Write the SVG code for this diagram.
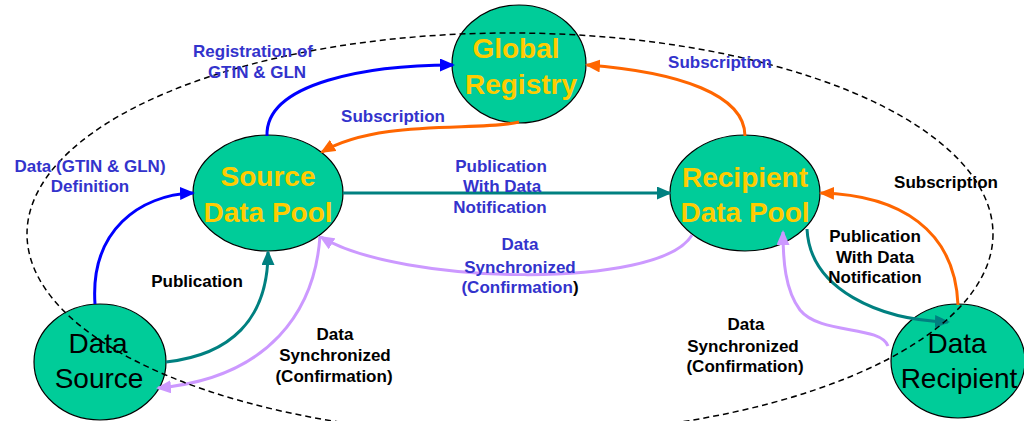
<svg xmlns="http://www.w3.org/2000/svg" width="1024" height="421" viewBox="0 0 1024 421">
<style>
.node{fill:#00CC99;stroke:#000;stroke-width:1.2}
.tp{font-family:"Liberation Sans",Arial,sans-serif;font-weight:bold;font-size:28px;fill:#FFCC00;text-anchor:middle}
.te{font-family:"Liberation Sans",Arial,sans-serif;font-size:28px;fill:#000;text-anchor:middle}
.lb{font-family:"Liberation Sans",Arial,sans-serif;font-weight:bold;font-size:17px;fill:#3333CC;text-anchor:middle}
.lk{font-family:"Liberation Sans",Arial,sans-serif;font-weight:bold;font-size:17px;fill:#000;text-anchor:middle}
.c{fill:none;stroke-width:3}
.blue{stroke:#0000FF}
.orange{stroke:#FF6600}
.teal{stroke:#008080}
.lav{stroke:#CC99FF}
</style>
<defs>
<marker id="mBlue" markerUnits="userSpaceOnUse" markerWidth="15" markerHeight="13" refX="13" refY="6.5" orient="auto"><path d="M0,0 L15,6.5 L0,13 z" fill="#0000FF"/></marker>
<marker id="mOrange" markerUnits="userSpaceOnUse" markerWidth="15" markerHeight="13" refX="13" refY="6.5" orient="auto"><path d="M0,0 L15,6.5 L0,13 z" fill="#FF6600"/></marker>
<marker id="mTeal" markerUnits="userSpaceOnUse" markerWidth="15" markerHeight="13" refX="13" refY="6.5" orient="auto"><path d="M0,0 L15,6.5 L0,13 z" fill="#008080"/></marker>
<marker id="mLav" markerUnits="userSpaceOnUse" markerWidth="15" markerHeight="13" refX="13" refY="6.5" orient="auto"><path d="M0,0 L15,6.5 L0,13 z" fill="#CC99FF"/></marker>
</defs>
<rect width="1024" height="421" fill="#fff"/>

<g id="global-registry">
<ellipse class="node" cx="519" cy="64" rx="67" ry="59"/>
<text class="tp" x="516" y="58">Global</text>
<text class="tp" x="521" y="94">Registry</text>
</g>
<g id="source-data-pool">
<ellipse class="node" cx="268" cy="193" rx="75" ry="58"/>
<text class="tp" x="268" y="186">Source</text>
<text class="tp" x="268" y="222">Data Pool</text>
</g>
<g id="recipient-data-pool">
<ellipse class="node" cx="745" cy="193" rx="75" ry="58"/>
<text class="tp" x="745" y="187">Recipient</text>
<text class="tp" x="745" y="222">Data Pool</text>
</g>
<g id="data-source">
<ellipse class="node" cx="100" cy="362" rx="66" ry="58"/>
<text class="te" x="98" y="353">Data</text>
<text class="te" x="99" y="388">Source</text>
</g>
<g id="data-recipient">
<ellipse class="node" cx="958" cy="361" rx="67" ry="57"/>
<text class="te" x="957" y="353">Data</text>
<text class="te" x="959" y="388">Recipient</text>
</g>

<g id="connectors">
<path class="c blue" d="M267,136 C265,82 370,65 453,65" marker-end="url(#mBlue)"/>
<path class="c orange" d="M519,122 C480,132 380,118 322,152" marker-end="url(#mOrange)"/>
<path class="c orange" d="M745,136 C745,95 680,72 587,65" marker-end="url(#mOrange)"/>
<path class="c teal" d="M343,193 L670,193" marker-end="url(#mTeal)"/>
<path class="c lav" d="M692,235 C660,290 400,285 321,237" marker-end="url(#mLav)"/>
<path class="c blue" d="M95,304 C90,230 140,195 193,193" marker-end="url(#mBlue)"/>
<path class="c teal" d="M166,362 C230,355 268,320 268,252" marker-end="url(#mTeal)"/>
<path class="c lav" d="M320,236 C315,310 270,378 158,388" marker-end="url(#mLav)"/>
<path class="c orange" d="M958,305 C955,230 900,195 821,193" marker-end="url(#mOrange)"/>
<path class="c teal" d="M807,229 C810,290 880,320 948,322" marker-end="url(#mTeal)"/>
<path class="c lav" d="M888,346 C880,325 820,335 800,310 C785,290 783,260 783,232" marker-end="url(#mLav)"/>
</g>

<g id="boundary">
<ellipse cx="510" cy="234" rx="483" ry="201" fill="none" stroke="#000" stroke-width="1.5" stroke-dasharray="6,4"/>
</g>

<g id="labels">
<text class="lb" x="253" y="57">Registration of</text>
<text class="lb" x="257" y="78">GTIN &amp; GLN</text>
<text class="lb" x="393" y="122">Subscription</text>
<text class="lb" x="720" y="68">Subscription</text>
<text class="lb" x="90" y="172">Data (GTIN &amp; GLN)</text>
<text class="lb" x="90" y="192">Definition</text>
<text class="lb" x="501" y="172">Publication</text>
<text class="lb" x="502" y="192">With Data</text>
<text class="lb" x="500" y="213">Notification</text>
<text class="lb" x="520" y="250">Data</text>
<text class="lb" x="520" y="273">Synchronized</text>
<text class="lb" x="520" y="293">(Confirmation<tspan fill="#000">)</tspan></text>
<text class="lk" x="197" y="287">Publication</text>
<text class="lk" x="335" y="340">Data</text>
<text class="lk" x="335" y="361">Synchronized</text>
<text class="lk" x="334" y="382">(Confirmation)</text>
<text class="lk" x="746" y="330">Data</text>
<text class="lk" x="743" y="352">Synchronized</text>
<text class="lk" x="745" y="372">(Confirmation)</text>
<text class="lk" x="946" y="188">Subscription</text>
<text class="lk" x="875" y="242">Publication</text>
<text class="lk" x="875" y="263">With Data</text>
<text class="lk" x="875" y="283">Notification</text>
</g>
</svg>
